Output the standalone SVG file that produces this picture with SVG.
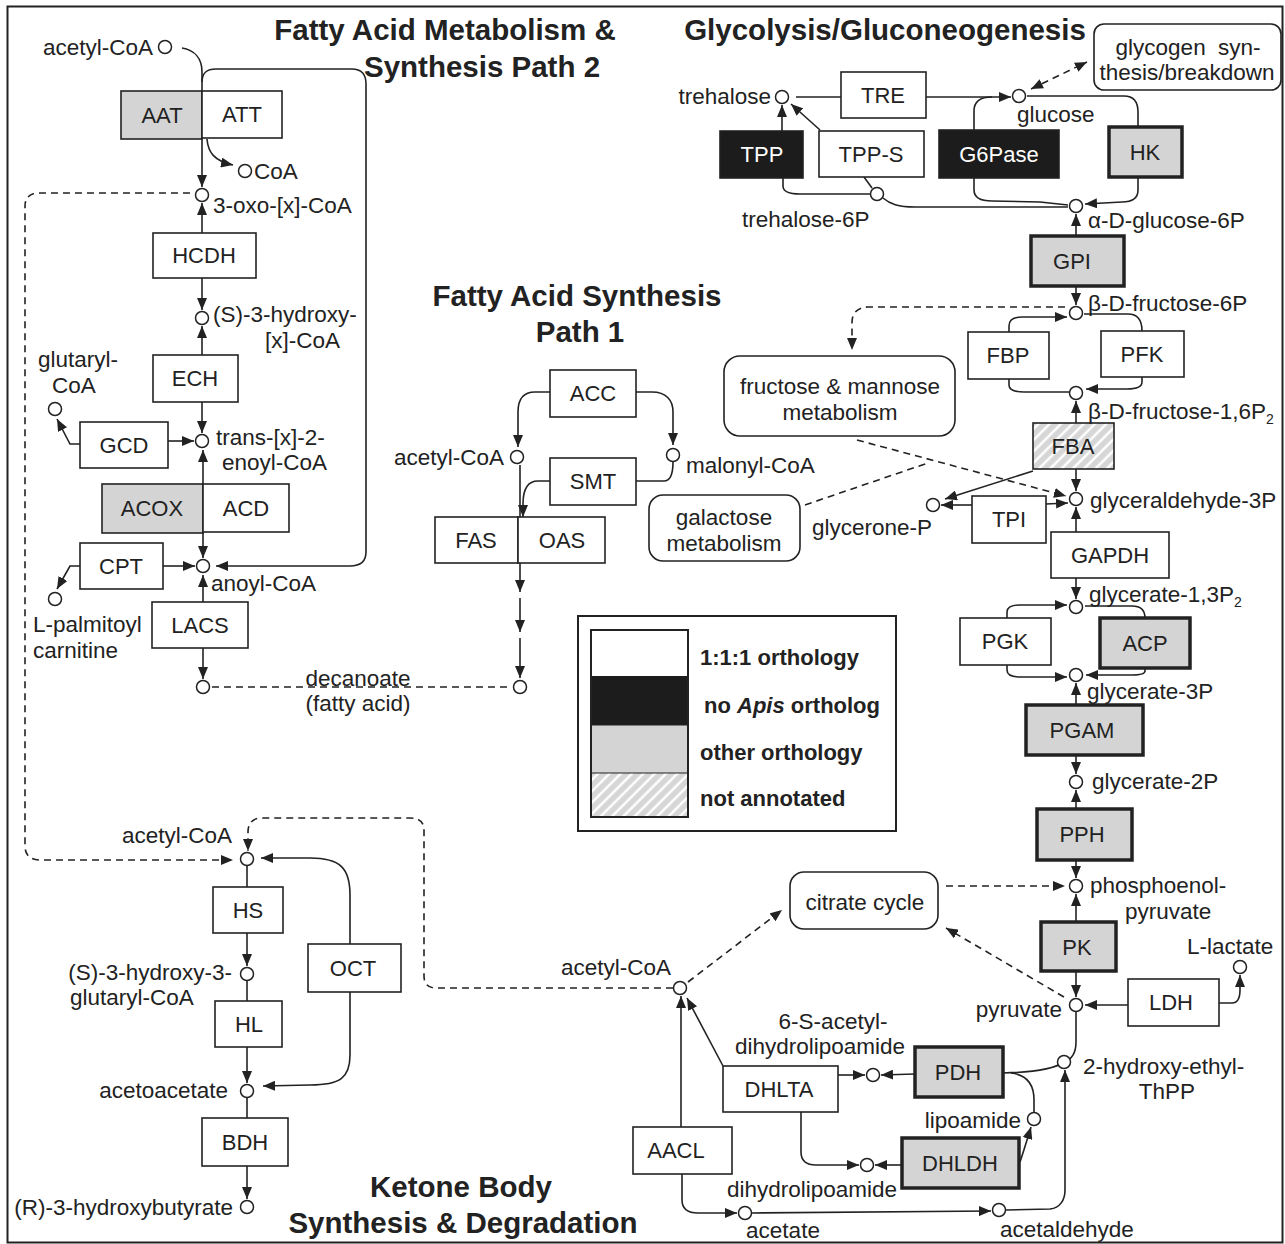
<svg xmlns="http://www.w3.org/2000/svg" width="1285" height="1244" viewBox="0 0 1285 1244">
<style>
.ln{fill:none;stroke:#222;stroke-width:1.6}
.dash{stroke-dasharray:7 5}
.bx{fill:#fff;stroke:#222;stroke-width:1.6}
.gray{fill:#d4d4d4}
.blk{fill:#1c1c1c}
.thick{stroke-width:3.5}
.hatch{fill:url(#hatch)}
.c{fill:#fff;stroke:#222;stroke-width:1.5}
text{font-family:'Liberation Sans',Arial,sans-serif;font-size:22.5px;fill:#222}
.bt{font-size:22px;text-anchor:middle}
.wt{fill:#fff}
.e{text-anchor:end}
.m{text-anchor:middle}
.title{font-weight:bold;font-size:29.5px;text-anchor:middle}
.lg{font-weight:bold;font-size:22px}
</style>
<defs>
<marker id="ah" viewBox="0 0 12 10" refX="12" refY="5" markerWidth="12" markerHeight="10" markerUnits="userSpaceOnUse" orient="auto-start-reverse"><path d="M0,0 L12,5 L0,10 z" fill="#222"/></marker>
<pattern id="hatch" patternUnits="userSpaceOnUse" width="8" height="8" patternTransform="rotate(45)"><rect width="8" height="8" fill="#d6d6d6"/><line x1="2" y1="0" x2="2" y2="8" stroke="#fff" stroke-width="2.5"/></pattern>
</defs>
<rect x="0" y="0" width="1285" height="1244" fill="#fff"/>
<rect x="7.5" y="6.5" width="1275" height="1236" fill="none" stroke="#222" stroke-width="2"/>

<g id="titles">
<text class="title" x="445" y="40">Fatty Acid Metabolism &amp;</text>
<text class="title" x="482" y="77">Synthesis Path 2</text>
<text class="title" x="885" y="40">Glycolysis/Gluconeogenesis</text>
<text class="title" x="577" y="306">Fatty Acid Synthesis</text>
<text class="title" x="580" y="342">Path 1</text>
<text class="title" x="461" y="1197">Ketone Body</text>
<text class="title" x="463" y="1233">Synthesis &amp; Degradation</text>
</g>

<g id="connectors">
<path class="ln" d="M182 48 C194 50 202 58 202 72 L202 187" marker-end="url(#ah)"/>
<path class="ln" d="M202 82 C202 73 206 69 216 69 L352 69 C362 69 366 75 366 84 L366 552 C366 562 360 566 350 566 L216 566" marker-end="url(#ah)"/>
<path class="ln" d="M207 139 C208 152 214 161 233 165" marker-end="url(#ah)"/>
<path class="ln dash" d="M190 193 L38 193 C30 193 25 198 25 206 L25 846 C25 855 30 860 40 860 L233 860" marker-end="url(#ah)"/>
<path class="ln" d="M202 233 L202 203" marker-end="url(#ah)"/>
<path class="ln" d="M202 278 L202 310" marker-end="url(#ah)"/>
<path class="ln" d="M202 355 L202 326" marker-end="url(#ah)"/>
<path class="ln" d="M202 402 L202 433" marker-end="url(#ah)"/>
<path class="ln" d="M168 441 L194 441" marker-end="url(#ah)"/>
<path class="ln" d="M80 444 L70 444 L57 419" marker-end="url(#ah)"/>
<path class="ln" d="M203 484 L203 450" marker-end="url(#ah)"/>
<path class="ln" d="M203 533 L203 558" marker-end="url(#ah)"/>
<path class="ln" d="M163 566 L195 566" marker-end="url(#ah)"/>
<path class="ln" d="M80 566 L70 566 L57 589" marker-end="url(#ah)"/>
<path class="ln" d="M203 602 L203 575" marker-end="url(#ah)"/>
<path class="ln" d="M203 648 L203 679" marker-end="url(#ah)"/>
<path class="ln dash" d="M212 687 L511 687"/>

<path class="ln" d="M550 392 L535 392 C522 392 518 400 518 412 L518 447" marker-end="url(#ah)"/>
<path class="ln" d="M636 392 L652 392 C666 392 673 400 673 412 L673 445" marker-end="url(#ah)"/>
<path class="ln" d="M636 481 L664 481 C670 481 673 476 673 462"/>
<path class="ln" d="M550 481 L538 481 C527 481 523 490 523 504 L523 517" marker-end="url(#ah)"/>
<path class="ln" d="M520 465 L520 592" marker-end="url(#ah)"/>
<path class="ln" d="M520 598 L520 632" marker-end="url(#ah)"/>
<path class="ln" d="M520 638 L520 678" marker-end="url(#ah)"/>

<path class="ln" d="M796 97 L841 97"/>
<path class="ln" d="M926 97 L1011 97" marker-end="url(#ah)"/>
<path class="ln" d="M974 130 L974 111 C974 101 980 97 992 97"/>
<path class="ln" d="M782 131 L782 105" marker-end="url(#ah)"/>
<path class="ln" d="M820 130 L791 104" marker-end="url(#ah)"/>
<path class="ln" d="M783 178 L783 186 C783 192 790 194 800 194 L870 194"/>
<path class="ln" d="M864 177 L872 188"/>
<path class="ln" d="M883 198 C890 204 898 207 915 207 L1068 207"/>
<path class="ln" d="M974 178 L974 190 C974 198 980 201 992 201 L1040 202 L1068 205"/>
<path class="ln" d="M1027 96 L1124 96 C1134 96 1138 102 1138 112 L1138 127"/>
<path class="ln" d="M1138 177 L1138 190 C1138 198 1132 202 1122 202 L1085 204" marker-end="url(#ah)"/>
<path class="ln dash" d="M1031 89 L1087 62" marker-start="url(#ah)" marker-end="url(#ah)"/>
<path class="ln" d="M1076 236 L1076 214" marker-end="url(#ah)"/>
<path class="ln" d="M1076 286 L1076 305" marker-end="url(#ah)"/>
<path class="ln dash" d="M1065 307 L868 307 C858 307 852 313 852 322 L852 350" marker-end="url(#ah)"/>
<path class="ln" d="M1009 332 L1009 326 C1009 320 1013 317 1022 317 L1067 317" marker-end="url(#ah)"/>
<path class="ln" d="M1084 314 L1128 314 C1138 314 1142 321 1142 331"/>
<path class="ln" d="M1009 379 L1009 385 C1009 390 1014 392 1024 392 L1069 392"/>
<path class="ln" d="M1142 377 L1142 382 C1142 387 1137 389 1127 389 L1086 389" marker-end="url(#ah)"/>
<path class="ln" d="M1076 423 L1076 401" marker-end="url(#ah)"/>
<path class="ln" d="M1076 469 L1076 491" marker-end="url(#ah)"/>
<path class="ln" d="M1033 471 L945 499" marker-end="url(#ah)"/>
<path class="ln" d="M972 505 L941 505" marker-end="url(#ah)"/>
<path class="ln" d="M1046 504 L1068 503" marker-end="url(#ah)"/>
<path class="ln dash" d="M857 440 L1066 496" marker-end="url(#ah)"/>
<path class="ln dash" d="M805 505 L928 463"/>
<path class="ln" d="M1076 532 L1076 507" marker-end="url(#ah)"/>
<path class="ln" d="M1076 578 L1076 599" marker-end="url(#ah)"/>
<path class="ln" d="M1007 618 L1007 612 C1007 607 1011 605 1020 605 L1067 605" marker-end="url(#ah)"/>
<path class="ln" d="M1085 606 L1132 606 C1141 606 1145 611 1145 618"/>
<path class="ln" d="M1007 665 L1007 670 C1007 675 1011 677 1020 677 L1067 677" marker-end="url(#ah)"/>
<path class="ln" d="M1145 668 L1145 671 C1145 674 1140 675 1132 675 L1086 675" marker-end="url(#ah)"/>
<path class="ln" d="M1076 705 L1076 683" marker-end="url(#ah)"/>
<path class="ln" d="M1076 755 L1076 774" marker-end="url(#ah)"/>
<path class="ln" d="M1076 809 L1076 790" marker-end="url(#ah)"/>
<path class="ln" d="M1076 860 L1076 878" marker-end="url(#ah)"/>
<path class="ln dash" d="M946 886 L1065 886" marker-end="url(#ah)"/>
<path class="ln" d="M1076 922 L1076 894" marker-end="url(#ah)"/>
<path class="ln" d="M1076 971 L1076 997" marker-end="url(#ah)"/>
<path class="ln dash" d="M1064 997 L946 928" marker-end="url(#ah)"/>
<path class="ln" d="M1128 1005 L1085 1005" marker-end="url(#ah)"/>
<path class="ln" d="M1219 1003 L1232 1003 C1238 1003 1240 998 1240 990 L1240 975" marker-end="url(#ah)"/>
<path class="ln" d="M1076 1012 L1076 1042 Q1076 1058 1064 1062 Q1050 1072 1003 1073"/>
<path class="ln" d="M1011 1073 C1028 1075 1034 1085 1034 1100 L1034 1112"/>
<path class="ln" d="M915 1074 L881 1075" marker-end="url(#ah)"/>
<path class="ln" d="M838 1075 L865 1075" marker-end="url(#ah)"/>
<path class="ln" d="M723 1066 L687 998" marker-end="url(#ah)"/>
<path class="ln" d="M1020 1162 C1024 1150 1027 1140 1031 1127" marker-end="url(#ah)"/>
<path class="ln" d="M902 1165 L875 1165" marker-end="url(#ah)"/>
<path class="ln" d="M801 1112 L801 1152 C801 1161 806 1165 816 1165 L859 1165" marker-end="url(#ah)"/>
<path class="ln" d="M681 1127 L681 996" marker-end="url(#ah)"/>
<path class="ln" d="M682 1174 L682 1200 C682 1209 688 1213 698 1213 L737 1213" marker-end="url(#ah)"/>
<path class="ln" d="M752 1213 L991 1211" marker-end="url(#ah)"/>
<path class="ln" d="M1006 1210 L1050 1209 C1060 1208 1065 1200 1065 1190 L1065 1070" marker-end="url(#ah)"/>
<path class="ln dash" d="M688 982 L782 910" marker-end="url(#ah)"/>
<path class="ln dash" d="M673 988 L436 988 C428 988 424 984 424 976 L424 830 C424 822 419 818 410 818 L262 818 C253 818 248 823 248 832 L248 851" marker-end="url(#ah)"/>

<path class="ln" d="M247 866 L247 887"/>
<path class="ln" d="M247 933 L247 966" marker-end="url(#ah)"/>
<path class="ln" d="M247 981 L247 1001"/>
<path class="ln" d="M247 1047 L247 1083" marker-end="url(#ah)"/>
<path class="ln" d="M247 1098 L247 1118"/>
<path class="ln" d="M247 1166 L247 1199" marker-end="url(#ah)"/>
<path class="ln" d="M350 944 L350 895 C350 868 340 858 310 858 L261 858" marker-end="url(#ah)"/>
<path class="ln" d="M350 992 L350 1055 C350 1078 340 1085 310 1085 L263 1086" marker-end="url(#ah)"/>
</g>

<g id="n-AAT"><rect class="bx gray" x="121" y="91" width="81" height="48"/><text class="bt" x="162" y="123">AAT</text></g>
<g id="n-ATT"><rect class="bx" x="202" y="91" width="80" height="47"/><text class="bt" x="242" y="122">ATT</text></g>
<g id="n-HCDH"><rect class="bx" x="153" y="233" width="103" height="45"/><text class="bt" x="204" y="263">HCDH</text></g>
<g id="n-ECH"><rect class="bx" x="153" y="355" width="85" height="47"/><text class="bt" x="195" y="386">ECH</text></g>
<g id="n-GCD"><rect class="bx" x="80" y="422" width="88" height="46"/><text class="bt" x="124" y="453">GCD</text></g>
<g id="n-ACOX"><rect class="bx gray" x="102" y="484" width="101" height="49"/><text class="bt" x="152" y="516">ACOX</text></g>
<g id="n-ACD"><rect class="bx" x="203" y="484" width="86" height="48"/><text class="bt" x="246" y="516">ACD</text></g>
<g id="n-CPT"><rect class="bx" x="80" y="543" width="83" height="46"/><text class="bt" x="121" y="574">CPT</text></g>
<g id="n-LACS"><rect class="bx" x="152" y="602" width="96" height="46"/><text class="bt" x="200" y="633">LACS</text></g>
<g id="n-ACC"><rect class="bx" x="550" y="370" width="86" height="47"/><text class="bt" x="593" y="401">ACC</text></g>
<g id="n-SMT"><rect class="bx" x="550" y="458" width="86" height="47"/><text class="bt" x="593" y="489">SMT</text></g>
<g id="n-FAS"><rect class="bx" x="435" y="517" width="83" height="46"/><text class="bt" x="476" y="548">FAS</text></g>
<g id="n-OAS"><rect class="bx" x="518" y="517" width="87" height="46"/><text class="bt" x="562" y="548">OAS</text></g>
<g id="n-TRE"><rect class="bx" x="841" y="72" width="85" height="46"/><text class="bt" x="883" y="103">TRE</text></g>
<g id="n-TPP"><rect class="bx blk" x="720" y="131" width="83" height="47"/><text class="bt wt" x="762" y="162">TPP</text></g>
<g id="n-TPP-S"><rect class="bx" x="819" y="131" width="105" height="46"/><text class="bt" x="871" y="162">TPP-S</text></g>
<g id="n-G6Pase"><rect class="bx blk" x="939" y="130" width="120" height="48"/><text class="bt wt" x="999" y="162">G6Pase</text></g>
<g id="n-HK"><rect class="bx gray thick" x="1109" y="127" width="73" height="50"/><text class="bt" x="1145" y="160">HK</text></g>
<g id="n-GPI"><rect class="bx gray thick" x="1031" y="236" width="93" height="50"/><text class="bt" x="1072" y="269">GPI</text></g>
<g id="n-FBP"><rect class="bx" x="968" y="332" width="81" height="47"/><text class="bt" x="1008" y="363">FBP</text></g>
<g id="n-PFK"><rect class="bx" x="1101" y="331" width="83" height="46"/><text class="bt" x="1142" y="362">PFK</text></g>
<g id="n-FBA"><rect class="bx hatch" x="1033" y="423" width="81" height="46"/><text class="bt" x="1073" y="454">FBA</text></g>
<g id="n-TPI"><rect class="bx" x="972" y="496" width="74" height="47"/><text class="bt" x="1009" y="527">TPI</text></g>
<g id="n-GAPDH"><rect class="bx" x="1051" y="532" width="118" height="46"/><text class="bt" x="1110" y="563">GAPDH</text></g>
<g id="n-PGK"><rect class="bx" x="960" y="618" width="91" height="47"/><text class="bt" x="1005" y="649">PGK</text></g>
<g id="n-ACP"><rect class="bx gray thick" x="1100" y="618" width="90" height="50"/><text class="bt" x="1145" y="651">ACP</text></g>
<g id="n-PGAM"><rect class="bx gray thick" x="1026" y="705" width="117" height="50"/><text class="bt" x="1082" y="738">PGAM</text></g>
<g id="n-PPH"><rect class="bx gray thick" x="1037" y="809" width="95" height="51"/><text class="bt" x="1082" y="842">PPH</text></g>
<g id="n-PK"><rect class="bx gray thick" x="1041" y="922" width="75" height="49"/><text class="bt" x="1077" y="955">PK</text></g>
<g id="n-LDH"><rect class="bx" x="1128" y="979" width="91" height="47"/><text class="bt" x="1171" y="1010">LDH</text></g>
<g id="n-PDH"><rect class="bx gray thick" x="915" y="1047" width="88" height="50"/><text class="bt" x="958" y="1080">PDH</text></g>
<g id="n-DHLTA"><rect class="bx" x="723" y="1066" width="115" height="46"/><text class="bt" x="779" y="1097">DHLTA</text></g>
<g id="n-DHLDH"><rect class="bx gray thick" x="902" y="1138" width="117" height="50"/><text class="bt" x="960" y="1171">DHLDH</text></g>
<g id="n-AACL"><rect class="bx" x="633" y="1127" width="99" height="47"/><text class="bt" x="676" y="1158">AACL</text></g>
<g id="n-HS"><rect class="bx" x="213" y="887" width="70" height="46"/><text class="bt" x="248" y="918">HS</text></g>
<g id="n-HL"><rect class="bx" x="215" y="1001" width="67" height="46"/><text class="bt" x="249" y="1032">HL</text></g>
<g id="n-OCT"><rect class="bx" x="308" y="944" width="93" height="48"/><text class="bt" x="353" y="976">OCT</text></g>
<g id="n-BDH"><rect class="bx" x="202" y="1118" width="86" height="48"/><text class="bt" x="245" y="1150">BDH</text></g>

<g id="n-fructose-mannose"><rect class="bx" x="724" y="356" width="231" height="80" rx="16"/><text class="m" x="840" y="394">fructose &amp; mannose</text><text class="m" x="840" y="420">metabolism</text></g>
<g id="n-galactose"><rect class="bx" x="649" y="495" width="151" height="66" rx="14"/><text class="m" x="724" y="525">galactose</text><text class="m" x="724" y="551">metabolism</text></g>
<g id="n-citrate"><rect class="bx" x="790" y="872" width="148" height="57" rx="14"/><text class="m" x="865" y="910">citrate cycle</text></g>
<g id="n-glycogen"><rect class="bx" x="1094" y="24" width="187" height="66" rx="10"/><text class="m" x="1188" y="55" word-spacing="6">glycogen syn-</text><text class="m" x="1187" y="80">thesis/breakdown</text></g>

<g id="m-acetylCoA-1"><circle class="c" cx="165" cy="47" r="6.5"/><text class="e" x="153" y="55">acetyl-CoA</text></g>
<g id="m-CoA"><circle class="c" cx="245" cy="171" r="6.5"/><text x="254" y="179">CoA</text></g>
<g id="m-oxo"><circle class="c" cx="202" cy="195" r="6.5"/><text x="213" y="213">3-oxo-[x]-CoA</text></g>
<g id="m-shydroxy"><circle class="c" cx="202" cy="318" r="6.5"/><text x="213" y="322">(S)-3-hydroxy-</text><text x="265" y="348">[x]-CoA</text></g>
<g id="m-glutaryl"><circle class="c" cx="55" cy="409" r="6.5"/><text x="38" y="367">glutaryl-</text><text x="52" y="393">CoA</text></g>
<g id="m-trans"><circle class="c" cx="202" cy="441" r="6.5"/><text x="216" y="445">trans-[x]-2-</text><text x="222" y="470">enoyl-CoA</text></g>
<g id="m-anoyl"><circle class="c" cx="203" cy="566" r="6.5"/><text x="211" y="591">anoyl-CoA</text></g>
<g id="m-palmitoyl"><circle class="c" cx="55" cy="599" r="6.5"/><text x="33" y="632">L-palmitoyl</text><text x="33" y="658">carnitine</text></g>
<g id="m-decanoate"><circle class="c" cx="203" cy="687" r="6.5"/><text class="m" x="358" y="686">decanoate</text><text class="m" x="358" y="711">(fatty acid)</text></g>
<g id="m-acetylCoA-2"><circle class="c" cx="517" cy="457" r="6.5"/><text class="e" x="504" y="465">acetyl-CoA</text></g>
<g id="m-malonyl"><circle class="c" cx="673" cy="455" r="6.5"/><text x="686" y="473">malonyl-CoA</text></g>
<g id="m-fa-end"><circle class="c" cx="520" cy="687" r="6.5"/></g>
<g id="m-trehalose"><circle class="c" cx="782" cy="97" r="6.5"/><text class="e" x="771" y="104">trehalose</text></g>
<g id="m-glucose"><circle class="c" cx="1019" cy="96" r="6.5"/><text x="1017" y="122">glucose</text></g>
<g id="m-t6p"><circle class="c" cx="877" cy="194" r="6.5"/><text x="742" y="227">trehalose-6P</text></g>
<g id="m-ag6p"><circle class="c" cx="1076" cy="206" r="6.5"/><text x="1088" y="228">α-D-glucose-6P</text></g>
<g id="m-bf6p"><circle class="c" cx="1076" cy="313" r="6.5"/><text x="1088" y="311">β-D-fructose-6P</text></g>
<g id="m-f16p"><circle class="c" cx="1076" cy="393" r="6.5"/><text x="1088" y="419">β-D-fructose-1,6P<tspan font-size="14" dy="5">2</tspan></text></g>
<g id="m-g3p"><circle class="c" cx="1076" cy="499" r="6.5"/><text x="1090" y="508">glyceraldehyde-3P</text></g>
<g id="m-glycerone"><circle class="c" cx="933" cy="505" r="6.5"/><text x="812" y="535">glycerone-P</text></g>
<g id="m-g13p"><circle class="c" cx="1076" cy="607" r="6.5"/><text x="1089" y="602">glycerate-1,3P<tspan font-size="14" dy="5">2</tspan></text></g>
<g id="m-g3pate"><circle class="c" cx="1076" cy="675" r="6.5"/><text x="1087" y="699">glycerate-3P</text></g>
<g id="m-g2p"><circle class="c" cx="1076" cy="782" r="6.5"/><text x="1092" y="789">glycerate-2P</text></g>
<g id="m-pep"><circle class="c" cx="1076" cy="886" r="6.5"/><text x="1090" y="893">phosphoenol-</text><text x="1125" y="919">pyruvate</text></g>
<g id="m-pyruvate"><circle class="c" cx="1076" cy="1005" r="6.5"/><text class="e" x="1062" y="1017">pyruvate</text></g>
<g id="m-llactate"><circle class="c" cx="1240" cy="967" r="6.5"/><text x="1187" y="954">L-lactate</text></g>
<g id="m-acetylCoA-3"><circle class="c" cx="680" cy="988" r="6.5"/><text class="e" x="671" y="975">acetyl-CoA</text></g>
<g id="m-sacetyl"><circle class="c" cx="873" cy="1075" r="6.5"/><text class="m" x="833" y="1029">6-S-acetyl-</text><text class="m" x="820" y="1054">dihydrolipoamide</text></g>
<g id="m-hydroxyethyl"><circle class="c" cx="1064" cy="1062" r="6.5"/><text x="1083" y="1074">2-hydroxy-ethyl-</text><text class="m" x="1167" y="1099">ThPP</text></g>
<g id="m-lipoamide"><circle class="c" cx="1034" cy="1119" r="6.5"/><text class="e" x="1021" y="1128">lipoamide</text></g>
<g id="m-dihydrolipoamide"><circle class="c" cx="867" cy="1165" r="6.5"/><text class="m" x="812" y="1197">dihydrolipoamide</text></g>
<g id="m-acetate"><circle class="c" cx="745" cy="1213" r="6.5"/><text class="m" x="783" y="1238">acetate</text></g>
<g id="m-acetaldehyde"><circle class="c" cx="999" cy="1210" r="6.5"/><text x="1000" y="1237">acetaldehyde</text></g>
<g id="m-acetylCoA-4"><circle class="c" cx="247" cy="859" r="6.5"/><text class="e" x="232" y="843">acetyl-CoA</text></g>
<g id="m-hmg"><circle class="c" cx="247" cy="974" r="6.5"/><text class="e" x="232" y="980">(S)-3-hydroxy-3-</text><text x="70" y="1005">glutaryl-CoA</text></g>
<g id="m-acetoacetate"><circle class="c" cx="247" cy="1091" r="6.5"/><text class="e" x="228" y="1098">acetoacetate</text></g>
<g id="m-rhb"><circle class="c" cx="247" cy="1207" r="6.5"/><text class="e" x="233" y="1215">(R)-3-hydroxybutyrate</text></g>

<g id="legend">
<rect x="578" y="616" width="318" height="215" fill="#fff" stroke="#222" stroke-width="2"/>
<rect x="591" y="630" width="97" height="46" fill="#fff"/>
<rect x="591" y="676" width="97" height="49" fill="#1c1c1c"/>
<rect x="591" y="725" width="97" height="48" fill="#d4d4d4"/>
<rect x="591" y="773" width="97" height="44" fill="url(#hatch)"/>
<line x1="591" y1="725" x2="688" y2="725" stroke="#222" stroke-width="1"/>
<line x1="591" y1="773" x2="688" y2="773" stroke="#222" stroke-width="1"/>
<rect x="591" y="630" width="97" height="187" fill="none" stroke="#222" stroke-width="2"/>
<text class="lg" x="700" y="665">1:1:1 orthology</text>
<text class="lg" x="704" y="713">no <tspan font-style="italic">Apis</tspan> ortholog</text>
<text class="lg" x="700" y="760">other orthology</text>
<text class="lg" x="700" y="806">not annotated</text>
</g>
</svg>
